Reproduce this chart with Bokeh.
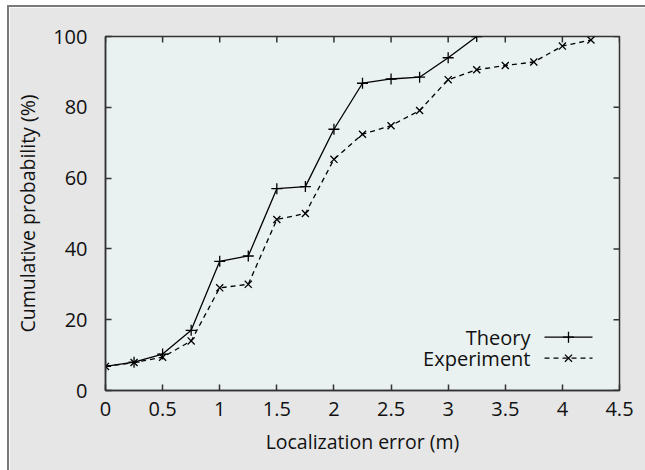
from bokeh.plotting import figure
from bokeh.models import Range1d, FixedTicker, Label
from bokeh.embed import file_html
from bokeh.resources import INLINE

# Data
theory_x = [0, 0.25, 0.5, 0.75, 1.0, 1.25, 1.5, 1.75, 2.0, 2.25, 2.5, 2.75, 3.0, 3.25]
theory_y = [6.8, 8.0, 10.3, 17.0, 36.5, 38.0, 57.0, 57.6, 73.8, 86.8, 88.0, 88.5, 94.0, 100.0]
exp_x = [0, 0.25, 0.5, 0.75, 1.0, 1.25, 1.5, 1.75, 2.0, 2.25, 2.5, 2.75, 3.0, 3.25, 3.5, 3.75, 4.0, 4.25]
exp_y = [6.8, 7.9, 9.4, 14.0, 29.0, 30.0, 48.3, 50.0, 65.3, 72.4, 74.8, 79.1, 87.8, 90.6, 91.8, 92.8, 97.3, 99.0]
x_ticks = [0, 0.5, 1, 1.5, 2, 2.5, 3, 3.5, 4, 4.5]
y_ticks = [0, 20, 40, 60, 80, 100]
series_names = ["Theory", "Experiment"]

FONT = "Open Sans"
OUTER_BG = "#e6e6e6"
PLOT_BG = "#e9f2f1"
DARK = "#333333"

FW, FH = 514, 354
X0, X1, Y0, Y1 = 0, 4.5, 0, 100

p = figure(frame_width=FW, frame_height=FH,
           x_range=Range1d(X0, X1), y_range=Range1d(Y0, Y1),
           output_backend="svg", toolbar_location=None,
           min_border_left=96, min_border_right=26,
           min_border_top=29, min_border_bottom=80,
           x_axis_label="Localization error (m)",
           y_axis_label="Cumulative probability (%)")
p.styles = {"margin-left": "7px", "margin-top": "5px",
            "border-left": "2px solid #7a7a7a", "border-top": "2px solid #7a7a7a"}
p.background_fill_color = PLOT_BG
p.border_fill_color = OUTER_BG
p.outline_line_color = DARK
p.outline_line_width = 1.5
p.grid.visible = False

for ax in (p.xaxis[0], p.yaxis[0]):
    ax.axis_line_color = DARK
    ax.axis_line_width = 1.5
    ax.major_tick_in = 6
    ax.major_tick_out = 0
    ax.major_tick_line_color = DARK
    ax.major_tick_line_width = 1.5
    ax.minor_tick_line_color = None
    ax.major_label_text_font = FONT
    ax.major_label_text_color = "#111111"
    ax.major_label_text_font_size = "20px"
    ax.axis_label_text_font = FONT
    ax.axis_label_text_font_style = "normal"
    ax.axis_label_text_color = "#111111"
    ax.axis_label_text_font_size = "19.5px"

p.xaxis.ticker = FixedTicker(ticks=x_ticks)
p.yaxis.ticker = FixedTicker(ticks=y_ticks)
p.xaxis.major_label_standoff = 11
p.yaxis.major_label_standoff = 18
p.xaxis.axis_label_standoff = 9
p.yaxis.axis_label_standoff = 9

# mirror ticks on top and right (6 px long, pointing inward)
tick_len_y = 6 * (Y1 - Y0) / FH
tick_len_x = 6 * (X1 - X0) / FW
p.segment(x0=x_ticks, y0=[Y1] * len(x_ticks), x1=x_ticks, y1=[Y1 - tick_len_y] * len(x_ticks),
          line_color=DARK, line_width=1.5)
p.segment(x0=[X1] * len(y_ticks), y0=y_ticks, x1=[X1 - tick_len_x] * len(y_ticks), y1=y_ticks,
          line_color=DARK, line_width=1.5)

# Series
p.line(theory_x, theory_y, line_color="black", line_width=1.3)
p.scatter(theory_x, theory_y, marker="cross", size=11, line_color="black", line_width=1.3)
p.line(exp_x, exp_y, line_color="black", line_width=1.3, line_dash="5 4")
p.scatter(exp_x, exp_y, marker="x", size=10, line_color="black", line_width=1.3)

# Legend (gnuplot style: label then sample), positions in screen pixels from frame
def sx(px):
    return X0 + px * (X1 - X0) / FW
def sy(py):
    return Y0 + py * (Y1 - Y0) / FH

rows = [(53.3, "solid", "cross"), (32.3, "dashed", "x")]
for name, (yoff, dash, mk) in zip(series_names, rows):
    yv = sy(yoff)
    p.add_layout(Label(x=sx(425), y=yv, text=name, text_align="right",
                       text_baseline="middle", text_font=FONT,
                       text_font_size="20px", text_color="#111111"))
    p.line([sx(439), sx(487)], [yv, yv], line_color="black", line_width=1.3,
           line_dash="5 4" if dash == "dashed" else "solid")
    p.scatter([sx(463)], [yv], marker=mk, size=10 if mk == "x" else 11,
              line_color="black", line_width=1.3)

open("out.html", "w").write(file_html(p, INLINE))
